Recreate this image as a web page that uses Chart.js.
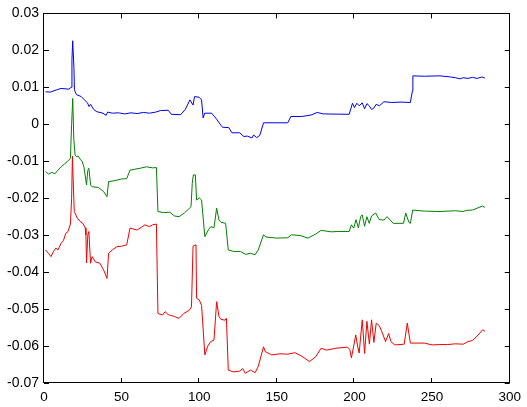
<!DOCTYPE html>
<html>
<head>
<meta charset="utf-8">
<script src="https://cdn.jsdelivr.net/npm/chart.js@4"></script>
<style>
  html, body { margin: 0; padding: 0; background: #fff; }
  #wrap { width: 527px; height: 407px; }
</style>
</head>
<body>
<div id="wrap"><canvas id="chart" width="527" height="407"></canvas></div>
<script>
// values
const blueX = [1, 4, 8, 11, 16, 17.5, 18, 18.5, 19.3, 19.6, 20, 21, 24, 26, 28, 29, 30, 32, 34, 38, 40, 41, 44, 48, 52, 56, 60, 64, 68, 72, 75, 80, 82, 88, 91, 94, 96, 97, 100, 101.5, 102.5, 103.5, 108, 110, 111.5, 114, 115, 119, 121, 126, 128.7, 131, 134, 135, 137, 139, 141.4, 157, 159, 166, 172, 176, 180, 196.6, 198.7, 200, 201.5, 203, 205, 206.5, 208, 209.5, 211, 212.5, 214, 216, 219, 224, 230, 236, 237.3, 237.6, 245, 255, 262, 265, 268, 270, 273, 276, 279, 282, 284];
const blueY = [0.0088, 0.0087, 0.0093, 0.0097, 0.0095, 0.0100, 0.0175, 0.0226, 0.0150, 0.0095, 0.0088, 0.0080, 0.0075, 0.0066, 0.0058, 0.0048, 0.0054, 0.0040, 0.0034, 0.0030, 0.0024, 0.0033, 0.0030, 0.0031, 0.0028, 0.0031, 0.0029, 0.0032, 0.0030, 0.0033, 0.0037, 0.0038, 0.0027, 0.0026, 0.0040, 0.0066, 0.0052, 0.0075, 0.0073, 0.0066, 0.0017, 0.0030, 0.0030, 0.0020, 0.0012, -0.0003, -0.0008, -0.0009, -0.0023, -0.0023, -0.0033, -0.0032, -0.0037, -0.0029, -0.0036, -0.0030, 0.0004, 0.0004, 0.0021, 0.0021, 0.0025, 0.0032, 0.0028, 0.0027, 0.0057, 0.0045, 0.0057, 0.0050, 0.0058, 0.0042, 0.0056, 0.0050, 0.0040, 0.0044, 0.0054, 0.0050, 0.0061, 0.0059, 0.0060, 0.0059, 0.0090, 0.0131, 0.0130, 0.0131, 0.0128, 0.0126, 0.0123, 0.0126, 0.0124, 0.0127, 0.0124, 0.0128, 0.0125];

const greenX = [1, 3, 5, 7, 9, 11, 13, 15, 17, 17.8, 18.5, 19.2, 20, 21, 22, 23.6, 24.5, 25.7, 27.4, 28.2, 28.9, 30, 31, 35, 38.4, 40.6, 41.6, 45, 50, 53.3, 55.4, 58, 62, 66, 70, 72.4, 73.4, 77, 81, 84, 87, 90.4, 93, 94.7, 95.5, 96.2, 97.5, 98.3, 100, 101.5, 103.6, 106, 107.4, 109.5, 111.2, 112.7, 114, 117, 118.7, 122, 126.5, 130, 133, 136, 138, 141.4, 143, 150, 157, 159.4, 165, 170, 175, 178.5, 185, 190, 196.6, 198, 199.5, 201, 202.5, 204, 205, 206.5, 208, 209.5, 211, 213.6, 216, 219, 221, 225, 231.6, 233, 235, 236, 237.5, 245, 255, 265, 270, 272, 276, 279, 282.6, 284];
const greenY = [-0.0128, -0.0135, -0.0130, -0.0134, -0.0124, -0.0115, -0.0108, -0.0101, -0.0092, 0.0000, 0.0070, -0.0040, -0.0083, -0.0088, -0.0086, -0.0096, -0.0100, -0.0115, -0.0164, -0.0125, -0.0119, -0.0164, -0.0169, -0.0171, -0.0182, -0.0196, -0.0155, -0.0153, -0.0148, -0.0147, -0.0124, -0.0122, -0.0119, -0.0115, -0.0118, -0.0117, -0.0236, -0.0239, -0.0238, -0.0248, -0.0250, -0.0240, -0.0230, -0.0223, -0.0160, -0.0137, -0.0137, -0.0205, -0.0199, -0.0205, -0.0304, -0.0285, -0.0277, -0.0280, -0.0227, -0.0259, -0.0265, -0.0268, -0.0340, -0.0344, -0.0344, -0.0352, -0.0349, -0.0353, -0.0340, -0.0299, -0.0305, -0.0308, -0.0307, -0.0299, -0.0301, -0.0308, -0.0297, -0.0287, -0.0291, -0.0290, -0.0290, -0.0272, -0.0281, -0.0258, -0.0280, -0.0250, -0.0245, -0.0276, -0.0250, -0.0268, -0.0248, -0.0240, -0.0258, -0.0259, -0.0250, -0.0268, -0.0268, -0.0240, -0.0265, -0.0268, -0.0232, -0.0235, -0.0236, -0.0234, -0.0236, -0.0233, -0.0232, -0.0227, -0.0221, -0.0225];

const redX = [1, 3, 4.5, 6, 7.6, 9, 11, 12.5, 14, 15.5, 17, 17.8, 18.3, 18.8, 19.5, 21.5, 23, 25, 26.5, 27, 27.4, 28.2, 28.9, 30, 31, 33, 36, 38.4, 40.6, 41.6, 44, 47, 50, 53.3, 55.4, 58, 60, 63, 65, 68, 70, 72.4, 73.4, 76.4, 78, 80, 84, 87, 90, 93.6, 95, 96, 97.9, 98.3, 100, 101.5, 103.6, 105.5, 107.4, 109.5, 111.2, 112.7, 114, 116.6, 117.5, 118.7, 122, 126, 128, 129.7, 133, 136, 138, 141.4, 142.5, 146.7, 152, 157, 161.6, 165, 168, 171, 175, 178.5, 182, 188, 195.5, 197, 198, 199.5, 200.8, 202, 203, 205, 206.5, 208, 209.6, 211, 212.5, 214, 216, 218, 220, 222, 223.5, 226, 232, 234, 236, 245, 250, 255, 260, 265, 270, 273, 276, 279, 282.6, 284];
const redY = [-0.0340, -0.0350, -0.0358, -0.0345, -0.0335, -0.0340, -0.0322, -0.0315, -0.0295, -0.0290, -0.0270, -0.0200, -0.0086, -0.0150, -0.0236, -0.0254, -0.0262, -0.0268, -0.0280, -0.0300, -0.0375, -0.0300, -0.0290, -0.0376, -0.0358, -0.0372, -0.0376, -0.0394, -0.0417, -0.0349, -0.0340, -0.0331, -0.0330, -0.0326, -0.0281, -0.0284, -0.0286, -0.0278, -0.0272, -0.0277, -0.0272, -0.0270, -0.0512, -0.0516, -0.0507, -0.0515, -0.0520, -0.0525, -0.0512, -0.0503, -0.0494, -0.0330, -0.0326, -0.0471, -0.0475, -0.0490, -0.0624, -0.0600, -0.0588, -0.0584, -0.0480, -0.0520, -0.0528, -0.0530, -0.0525, -0.0665, -0.0670, -0.0668, -0.0661, -0.0674, -0.0665, -0.0672, -0.0655, -0.0602, -0.0615, -0.0624, -0.0621, -0.0622, -0.0618, -0.0625, -0.0633, -0.0642, -0.0629, -0.0606, -0.0611, -0.0606, -0.0603, -0.0610, -0.0632, -0.0600, -0.0570, -0.0600, -0.0619, -0.0529, -0.0620, -0.0533, -0.0595, -0.0529, -0.0590, -0.0538, -0.0545, -0.0565, -0.0588, -0.0566, -0.0588, -0.0597, -0.0595, -0.0538, -0.0592, -0.0592, -0.0597, -0.0596, -0.0596, -0.0594, -0.0595, -0.0588, -0.0585, -0.0573, -0.0556, -0.0560];

const xTicks = [0, 50, 100, 150, 200, 250, 300];
const yTicks = [-0.07, -0.06, -0.05, -0.04, -0.03, -0.02, -0.01, 0, 0.01, 0.02, 0.03];

const toPoints = (xs, ys) => xs.map((x, i) => ({ x, y: ys[i] }));

const series = [
  { xs: blueX, ys: blueY, color: 'rgb(0,0,230)' },
  { xs: greenX, ys: greenY, color: 'rgb(0,128,0)' },
  { xs: redX, ys: redY, color: 'rgb(240,0,0)' },
];

// MATLAB-style box with inward tick marks on all four sides
const boxPlugin = {
  id: 'box',
  afterDraw(chart) {
    const { ctx, chartArea: a, scales } = chart;
    const len = 5;
    ctx.save();
    ctx.strokeStyle = '#000';
    ctx.lineWidth = 1;
    ctx.strokeRect(Math.round(a.left) - 0.5, Math.round(a.top) + 0.5, Math.round(a.right - a.left), Math.round(a.bottom - a.top) - 1);
    ctx.beginPath();
    xTicks.forEach((v) => {
      const px = Math.round(scales.x.getPixelForValue(v)) - 0.5;
      ctx.moveTo(px, a.bottom); ctx.lineTo(px, a.bottom - len);
      ctx.moveTo(px, a.top); ctx.lineTo(px, a.top + len);
    });
    yTicks.forEach((v) => {
      const py = Math.round(scales.y.getPixelForValue(v)) + 0.5;
      ctx.moveTo(a.left, py); ctx.lineTo(a.left + len, py);
      ctx.moveTo(a.right, py); ctx.lineTo(a.right - len, py);
    });
    ctx.stroke();
    ctx.restore();
  },
};

Chart.defaults.font.family = "'Liberation Sans', Arial, sans-serif";
Chart.defaults.font.size = 13;
Chart.defaults.color = '#000';

new Chart(document.getElementById('chart'), {
  type: 'line',
  data: {
    datasets: series.map((s) => ({
      data: toPoints(s.xs, s.ys),
      borderColor: s.color,
      borderWidth: 1,
      pointRadius: 0,
      tension: 0,
      fill: false,
    })),
  },
  options: {
    responsive: false,
    animation: false,
    events: [],
    layout: { padding: { left: 0, top: 13, right: 13, bottom: 0 } },
    plugins: { legend: { display: false }, tooltip: { enabled: false } },
    scales: {
      x: {
        type: 'linear',
        min: 0,
        max: 300,
        afterFit: (s) => { s.height = 24; },
        afterBuildTicks: (s) => { s.ticks = xTicks.map((v) => ({ value: v })); },
        grid: { display: false, drawTicks: false },
        border: { display: false },
        ticks: { padding: 6, maxRotation: 0, autoSkip: false, font: { size: 13.5 }, callback: (v) => String(v) },
      },
      y: {
        type: 'linear',
        min: -0.07,
        max: 0.03,
        afterFit: (s) => { s.width = 44; },
        afterBuildTicks: (s) => { s.ticks = yTicks.map((v) => ({ value: v })); },
        grid: { display: false, drawTicks: false },
        border: { display: false },
        ticks: { padding: 5, autoSkip: false, font: { size: 14 }, callback: (v) => String(Number(v.toFixed(2))) },
      },
    },
  },
  plugins: [boxPlugin],
});
</script>
</body>
</html>
